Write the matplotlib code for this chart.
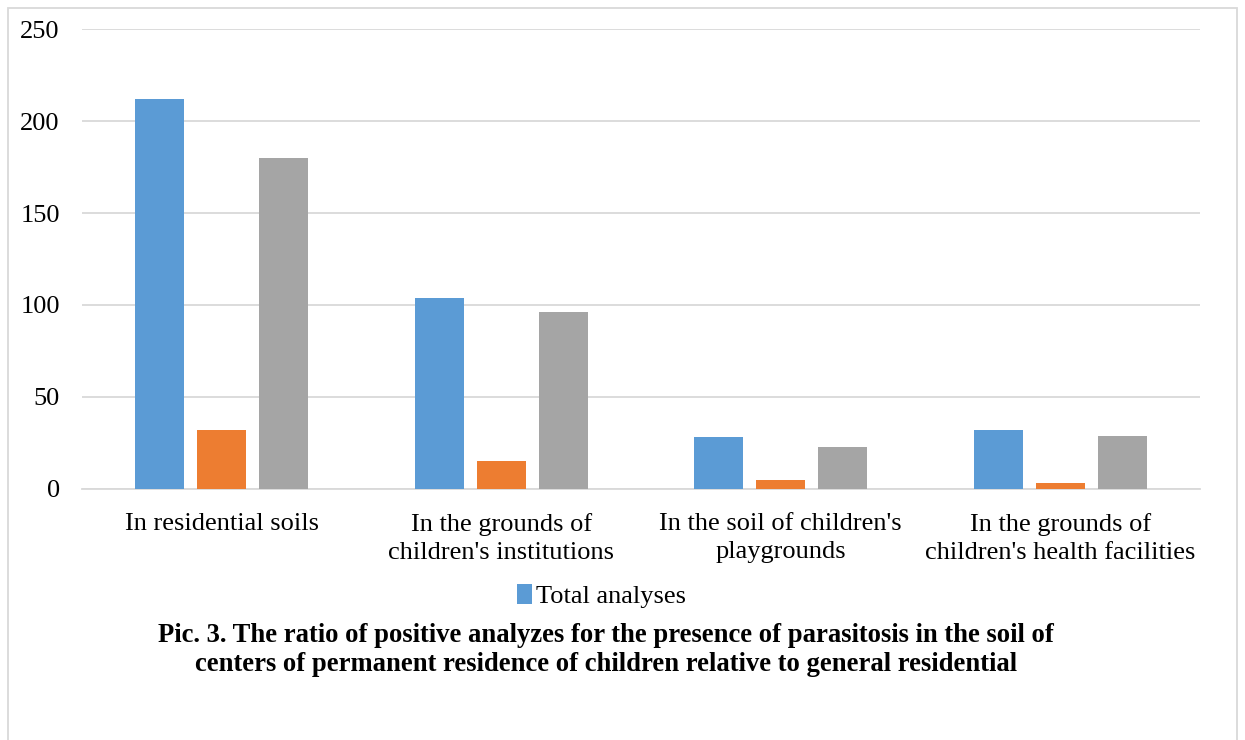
import numpy as np
import matplotlib.pyplot as plt
from matplotlib.patches import Rectangle

categories = ["In residential soils",
              "In the grounds of\nchildren's institutions",
              "In the soil of children's\nplaygrounds",
              "In the grounds of\nchildren's health facilities"]
total_analyses = [212, 104, 28, 32]
positive = [32, 15, 5, 3]
negative = [180, 96, 23, 29]
yticks = [0, 50, 100, 150, 200, 250]

title = ("Pic. 3. The ratio of positive analyzes for the presence of parasitosis in the soil of\n"
         "centers of permanent residence of children relative to general residential")

plt.rcParams['font.family'] = ['Liberation Serif', 'DejaVu Serif']

fig = plt.figure(figsize=(12.45, 7.4), dpi=100)
ax = fig.add_axes([0.0659, 0.3392, 0.898, 0.6216])

x = np.arange(len(categories))
w = 0.175
step = 0.222
b1 = ax.bar(x - step, total_analyses, w, color='#5b9bd5', label='Total analyses', zorder=3)
ax.bar(x, positive, w, color='#ed7d31', zorder=3)
ax.bar(x + step, negative, w, color='#a5a5a5', zorder=3)

ax.set_xlim(-0.5, 3.5)
ax.set_ylim(0, 250)
ax.set_yticks(yticks)
ax.set_xticks(x)
ax.set_xticklabels(categories, fontsize=19, linespacing=1.4)
ax.tick_params(axis='y', labelsize=19, length=0, pad=16)
ax.tick_params(axis='x', length=0, pad=17)
ax.grid(axis='y', color='#d9d9d9', linewidth=1.3, zorder=0)
for s in ['top', 'right', 'left']:
    ax.spines[s].set_visible(False)
ax.spines['bottom'].set_color('#d9d9d9')
ax.spines['bottom'].set_linewidth(1.3)

fig.legend(handles=[b1], loc='center', bbox_to_anchor=(0.483, 0.195), frameon=False,
           fontsize=19, handlelength=0.55, handleheight=0.8, handletextpad=0.15)

fig.text(0.487, 0.1215, title, ha='center', va='center', fontsize=19.2,
         fontweight='bold', linespacing=1.25)

# outer chart border
fig.patches.append(Rectangle((8 / 1245, -0.05), 1229 / 1245, 0.05 + 732 / 740,
                             transform=fig.transFigure, fill=False,
                             edgecolor='#d9d9d9', linewidth=1.3))

fig.savefig('out.png', dpi=100)
